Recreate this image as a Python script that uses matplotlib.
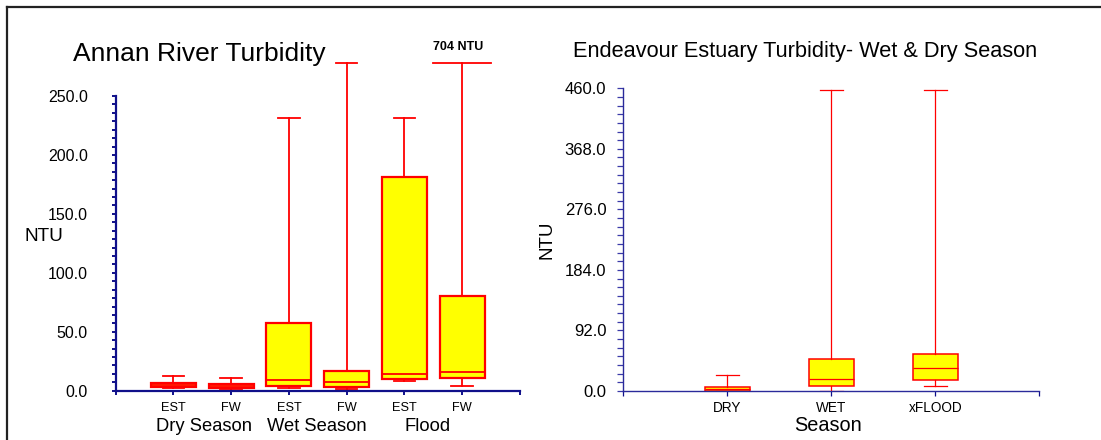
""" turbidity_boxes.py """

import matplotlib
matplotlib.use("Agg")
import matplotlib.pyplot as plt
from matplotlib.lines import Line2D
from matplotlib.ticker import AutoMinorLocator, FormatStrFormatter
from matplotlib import transforms

plt.rcParams['font.family'] = ['Liberation Sans', 'DejaVu Sans']

# Annan River: estuary / freshwater sites per season
annan_labels = ['EST', 'FW', 'EST', 'FW', 'EST', 'FW']
annan_groups = ['Dry Season', 'Wet Season', 'Flood']
annan_group_pos = [1.53, 3.49, 5.41]
annan_low = [2.0, 1.0, 2.5, 1.7, 8.0, 3.7]
annan_q1 = [3.4, 2.0, 4.3, 3.4, 9.9, 11.0]
annan_med = [4.8, 3.7, 8.8, 7.1, 14.4, 15.9]
annan_q3 = [6.3, 5.7, 57.3, 16.7, 181.5, 80.5]
annan_high = [12.7, 10.8, 231.0, 278.0, 231.0, 704.0]
annan_clip = 278.0  # whiskers above this are drawn truncated

# Endeavour Estuary by season
endv_labels = ['DRY', 'WET', 'xFLOOD']
endv_low = [0.0, 0.0, 7.9]
endv_q1 = [0.5, 7.9, 16.4]
endv_med = [3.3, 18.5, 34.2]
endv_q3 = [5.8, 47.9, 55.9]
endv_high = [24.0, 457.0, 457.0]
endv_ticks = [0.0, 92.0, 184.0, 276.0, 368.0, 460.0]

RED = '#ff0000'
YELLOW = '#ffff00'
NAVY = '#10108a'


def make_stats(low, q1, med, q3, high, clip=None):
    """Builds the stats dicts that Axes.bxp expects."""
    stats = []
    for lo, a, m, b, hi in zip(low, q1, med, q3, high):
        top = hi if clip is None else min(hi, clip)
        stats.append(dict(whislo=lo, q1=a, med=m, q3=b, whishi=top, fliers=[]))
    return stats


fig = plt.figure(figsize=(11.01, 4.40), dpi=100)

# outer frame (left and top edges only)
fig.add_artist(Line2D([7 / 1101, 7 / 1101], [0, 1 - 7 / 440],
                      color='#222222', lw=1.6, transform=fig.transFigure))
fig.add_artist(Line2D([7 / 1101, 1], [1 - 7 / 440, 1 - 7 / 440],
                      color='#222222', lw=1.6, transform=fig.transFigure))

###################################################
# Annan River panel
###################################################
ax1 = fig.add_axes([0.1051, 0.1120, 0.3670, 0.6698])
pos1 = list(range(1, len(annan_labels) + 1))
parts = ax1.bxp(make_stats(annan_low, annan_q1, annan_med, annan_q3,
                           annan_high, clip=annan_clip),
                positions=pos1, widths=0.78, capwidths=0.37,
                patch_artist=True, showfliers=False,
                boxprops=dict(facecolor=YELLOW, edgecolor=RED, linewidth=1.6),
                whiskerprops=dict(color=RED, linewidth=1.3),
                capprops=dict(color=RED, linewidth=1.3),
                medianprops=dict(color=RED, linewidth=1.3))
for key in ('whiskers', 'caps', 'boxes', 'medians'):
    for art in parts[key]:
        art.set_clip_on(False)

# widen the upper cap on truncated whiskers and note the real maximum
for i, hi in enumerate(annan_high):
    if hi > annan_clip:
        parts['caps'][2 * i + 1].set_xdata([pos1[i] - 0.5, pos1[i] + 0.5])
        ax1.annotate(f"{hi:.0f} NTU", xy=(pos1[i], annan_clip),
                     xytext=(-3, 7), textcoords='offset points',
                     ha='center', va='bottom', fontsize=9,
                     fontweight='bold', annotation_clip=False)

ax1.set_xlim(0, 7)
ax1.set_ylim(0, 250)
ax1.set_xticks(range(0, 8))
ax1.set_xticklabels([''] + annan_labels + [''], fontsize=9.2)
ax1.yaxis.set_major_formatter(FormatStrFormatter('%.1f'))
ax1.yaxis.set_minor_locator(AutoMinorLocator(7))
ax1.tick_params(axis='y', which='both', direction='out', length=3.2,
                width=1.4, color=NAVY, labelsize=11.5, pad=17)
ax1.tick_params(axis='x', direction='out', length=3, width=1.4,
                color=NAVY, pad=5)
for side in ('top', 'right'):
    ax1.spines[side].set_visible(False)
for side in ('left', 'bottom'):
    ax1.spines[side].set_color(NAVY)
    ax1.spines[side].set_linewidth(1.6)

ax1.set_ylabel('NTU', rotation=0, fontsize=13.7, ha='center', va='center')
ax1.yaxis.set_label_coords(-0.1787, 0.5216)

trans1 = transforms.blended_transform_factory(ax1.transData, ax1.transAxes)
for name, gx in zip(annan_groups, annan_group_pos):
    ax1.text(gx, -0.1198, name, transform=trans1, ha='center', va='center',
             fontsize=13.2)

fig.text(199 / 1101, 1 - 54 / 440, 'Annan River Turbidity',
         ha='center', va='center', fontsize=19)

###################################################
# Endeavour Estuary panel
###################################################
ax2 = fig.add_axes([0.5662, 0.1114, 0.3776, 0.6880])
pos2 = list(range(1, len(endv_labels) + 1))
ax2.bxp(make_stats(endv_low, endv_q1, endv_med, endv_q3, endv_high),
        positions=pos2, widths=0.43, capwidths=0.22,
        patch_artist=True, showfliers=False,
        boxprops=dict(facecolor=YELLOW, edgecolor=RED, linewidth=1.1),
        whiskerprops=dict(color=RED, linewidth=0.9),
        capprops=dict(color=RED, linewidth=0.9),
        medianprops=dict(color=RED, linewidth=0.9))

ax2.set_xlim(0, 4)
ax2.set_ylim(0, 460)
ax2.set_xticks(range(0, 5))
ax2.set_xticklabels([''] + endv_labels + [''], fontsize=9.8)
ax2.set_yticks(endv_ticks)
ax2.yaxis.set_major_formatter(FormatStrFormatter('%.1f'))
ax2.yaxis.set_minor_locator(AutoMinorLocator(7))
ax2.tick_params(axis='y', which='both', direction='out', length=4.3,
                width=0.9, color='#3a3aa8', labelsize=12, pad=8)
ax2.tick_params(axis='x', direction='out', length=3.5, width=0.9,
                color=NAVY, pad=4)
for side in ('top', 'right'):
    ax2.spines[side].set_visible(False)
for side in ('left', 'bottom'):
    ax2.spines[side].set_color('#2a2a9a')
    ax2.spines[side].set_linewidth(1.0)

ax2.set_ylabel('NTU', fontsize=13.5, va='center', ha='center')
ax2.yaxis.set_label_coords(-0.1838, 0.4988)
ax2.set_xlabel('Season', fontsize=14.3, va='center', ha='center')
ax2.xaxis.set_label_coords(0.4915, -0.1156)

fig.text(804.8 / 1101, 1 - 51.7 / 440,
         'Endeavour Estuary Turbidity- Wet & Dry Season',
         ha='center', va='center', fontsize=15.7)

fig.savefig('out.png', dpi=100, facecolor='white')
